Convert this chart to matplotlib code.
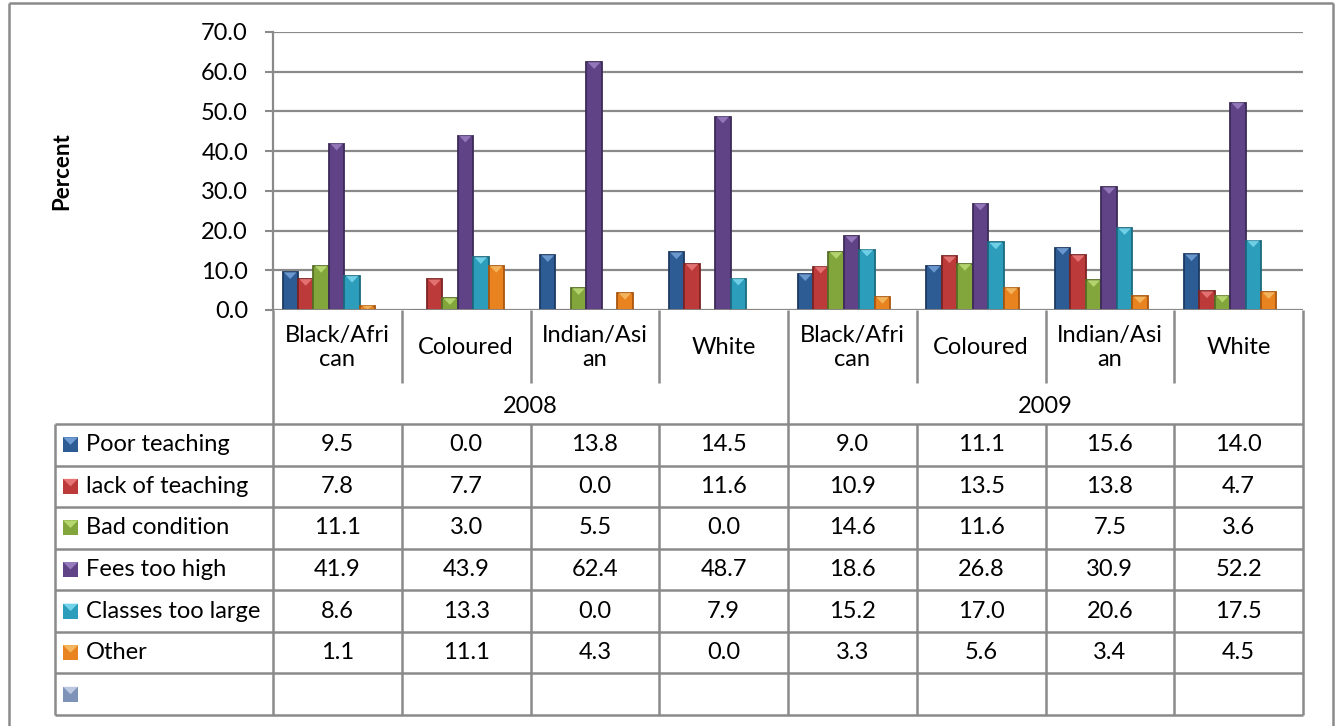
import matplotlib
matplotlib.use("Agg")
import matplotlib.pyplot as plt
from matplotlib.patches import Rectangle, Polygon
import numpy as np

plt.rcParams['font.family'] = ['Lato', 'DejaVu Sans']

# ---- data -------------------------------------------------------------
groups = ["Black/Afri\ncan", "Coloured", "Indian/Asi\nan", "White",
          "Black/Afri\ncan", "Coloured", "Indian/Asi\nan", "White"]
years = ["2008", "2009"]
series_names = ["Poor teaching", "lack of teaching", "Bad condition",
                "Fees too high", "Classes too large", "Other"]
poor_teaching = [9.5, 0.0, 13.8, 14.5, 9.0, 11.1, 15.6, 14.0]
lack_of_teaching = [7.8, 7.7, 0.0, 11.6, 10.9, 13.5, 13.8, 4.7]
bad_condition = [11.1, 3.0, 5.5, 0.0, 14.6, 11.6, 7.5, 3.6]
fees_too_high = [41.9, 43.9, 62.4, 48.7, 18.6, 26.8, 30.9, 52.2]
classes_too_large = [8.6, 13.3, 0.0, 7.9, 15.2, 17.0, 20.6, 17.5]
other = [1.1, 11.1, 4.3, 0.0, 3.3, 5.6, 3.4, 4.5]
series_values = [poor_teaching, lack_of_teaching, bad_condition,
                 fees_too_high, classes_too_large, other]
yticks = [0, 10, 20, 30, 40, 50, 60, 70]

colors = ["#2d5b94", "#bd3a3a", "#83a63c", "#5f4386", "#2c9dbb", "#e8831f"]
edge_colors = ["#1c3a62", "#7d2323", "#566e25", "#3d2a58", "#1b6a7f", "#a9560e"]
top_colors = ["#7aa7dc", "#ef7f7f", "#c0e07a", "#9f84c6", "#7fdcf2", "#f7c06a"]
blank_color = "#7f93b8"

W, H = 1337, 726
fig = plt.figure(figsize=(W / 100, H / 100), dpi=100)
fig.patch.set_facecolor("white")

def fx(px):
    return px / W

def fy(py):
    return 1 - py / H

FS = 17
grid_c = "#8a8a8a"
ax_left, ax_right, ax_top, ax_bot = 273, 1303, 32, 310

# ---- bar chart --------------------------------------------------------
ax = fig.add_axes([fx(ax_left), fy(ax_bot), fx(ax_right - ax_left),
                   (ax_bot - ax_top) / H])
# bars sit slightly left of the table columns
shift = 0.066
ax.set_xlim(-0.5 + shift, len(groups) - 0.5 + shift)
ax.set_ylim(0, 70)
ax.set_yticks(yticks)
ax.set_yticklabels([f"{v:.1f}" for v in yticks], fontsize=FS)
ax.tick_params(axis="y", length=6, width=1.5, color=grid_c, pad=12)
ax.set_xticks([])
ax.grid(axis="y", color=grid_c, linewidth=1.6)
ax.set_axisbelow(True)
for s in ["top", "right", "bottom"]:
    ax.spines[s].set_visible(False)
ax.spines["left"].set_color(grid_c)
ax.spines["left"].set_linewidth(1.6)
ax.set_ylabel("Percent", fontsize=FS - 1, fontweight="bold")
ax.yaxis.set_label_coords((72 - ax_left) / (ax_right - ax_left), 0.5)

n = len(series_values)
bw = 0.12
x = np.arange(len(groups))
tri_h = 1.7
for i, vals in enumerate(series_values):
    xs = x + (i - (n - 1) / 2) * bw
    ax.bar(xs, vals, width=bw, color=colors[i], edgecolor=edge_colors[i],
           linewidth=1.3, zorder=3)
    for xc, v in zip(xs, vals):
        if v <= 0:
            continue
        d = min(tri_h, v * 0.8)
        tri = Polygon([(xc - bw / 2 + 0.01, v), (xc + bw / 2 - 0.01, v),
                       (xc, v - d)], closed=True, facecolor=top_colors[i],
                      edgecolor="none", alpha=0.8, zorder=4)
        ax.add_patch(tri)
ax.axhline(0, color=grid_c, linewidth=2, zorder=5)

# ---- table overlay ----------------------------------------------------
ov = fig.add_axes([0, 0, 1, 1])
ov.set_xlim(0, W)
ov.set_ylim(H, 0)
ov.axis("off")

line_kw = dict(color=grid_c, linewidth=1.8, solid_capstyle="butt")

# outer chart frame
ov.plot([9, 1333], [3, 3], **line_kw)
ov.plot([9, 9], [3, H + 5], **line_kw)
ov.plot([1333, 1333], [3, H + 5], **line_kw)

col_w = (ax_right - ax_left) / len(groups)
col_x = [ax_left + k * col_w for k in range(len(groups) + 1)]
cat_bot = 383
year_bot = 424
n_rows = n + 1
row_h = (715 - year_bot) / n_rows
row_y = [year_bot + k * row_h for k in range(n_rows + 1)]
leg_left = 55

# category label row
for k in range(len(groups) + 1):
    if k in (0, len(groups) // 2, len(groups)):
        ov.plot([col_x[k], col_x[k]], [ax_bot, 715], **line_kw)
    else:
        ov.plot([col_x[k], col_x[k]], [ax_bot, cat_bot], **line_kw)
        ov.plot([col_x[k], col_x[k]], [year_bot, 715], **line_kw)
for k, g in enumerate(groups):
    ov.text((col_x[k] + col_x[k + 1]) / 2, (ax_bot + cat_bot) / 2 + 1, g,
            ha="center", va="center", fontsize=FS, linespacing=1.2)
half = len(groups) // 2
for j, yr in enumerate(years):
    ov.text((col_x[j * half] + col_x[(j + 1) * half]) / 2,
            (cat_bot + year_bot) / 2 + 3, yr, ha="center", va="center",
            fontsize=FS)

# data rows
for ry in row_y:
    ov.plot([leg_left, ax_right], [ry, ry], **line_kw)
ov.plot([leg_left, leg_left], [year_bot, 715], **line_kw)

def legend_key(x0, y0, size, face, top):
    ov.add_patch(Rectangle((x0, y0), size, size, facecolor=face,
                           edgecolor="none"))
    ov.add_patch(Polygon([(x0, y0), (x0 + size, y0),
                          (x0 + size / 2, y0 + size / 2)], closed=True,
                         facecolor=top, edgecolor="none", alpha=0.85))

key = 15
for i, (name, vals) in enumerate(zip(series_names, series_values)):
    yc = (row_y[i] + row_y[i + 1]) / 2
    legend_key(63, yc - key / 2, key, colors[i], top_colors[i])
    ov.text(86, yc, name, ha="left", va="center", fontsize=FS)
    for k, v in enumerate(vals):
        ov.text((col_x[k] + col_x[k + 1]) / 2, yc, f"{v:.1f}",
                ha="center", va="center", fontsize=FS)
yc = (row_y[-2] + row_y[-1]) / 2
legend_key(63, yc - key / 2, key, blank_color, "#c6d2e8")

fig.savefig("out.png", dpi=100, facecolor="white")
